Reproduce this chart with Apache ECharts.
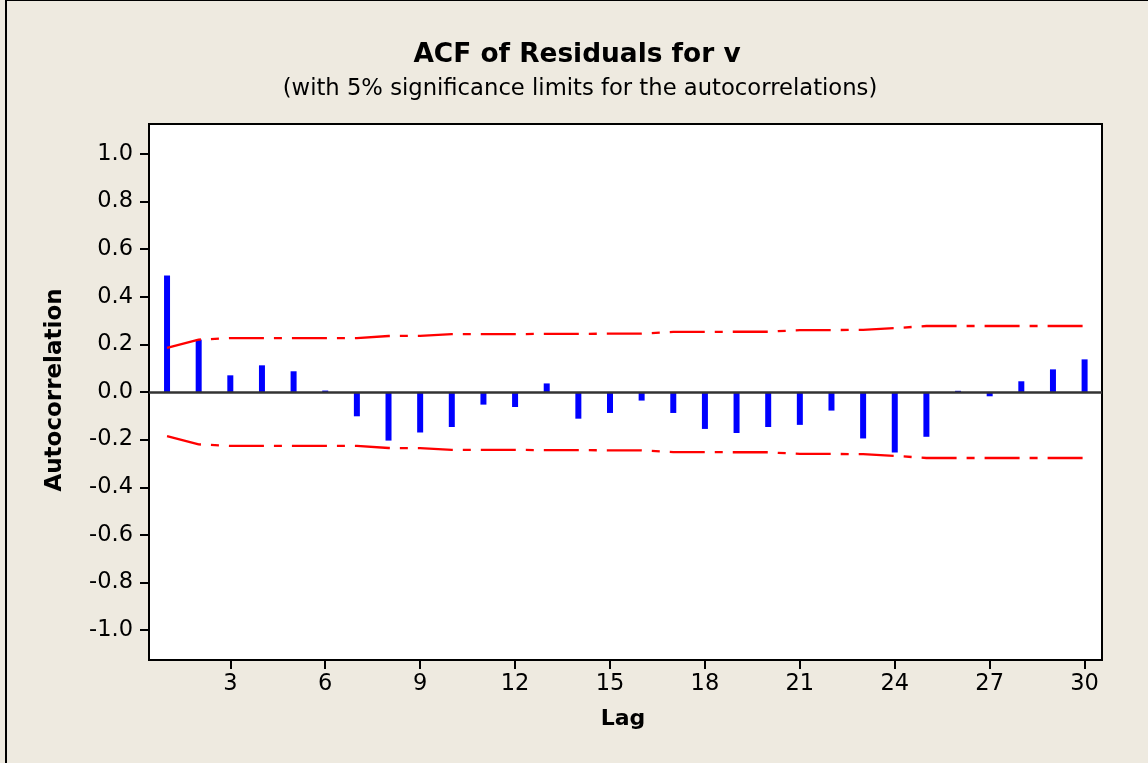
<!DOCTYPE html>
<html>
<head>
<meta charset="utf-8">
<script src="https://cdn.jsdelivr.net/npm/echarts@6/dist/echarts.min.js"></script>
<style>
html,body{margin:0;padding:0;background:#EEEAE0;}
#chart{width:1148px;height:763px;}
</style>
</head>
<body>
<div id="chart"></div>
<script>
const lags = [1,2,3,4,5,6,7,8,9,10,11,12,13,14,15,16,17,18,19,20,21,22,23,24,25,26,27,28,29,30];
const acf = [0.489,0.220,0.070,0.112,0.087,0.006,-0.102,-0.204,-0.170,-0.147,-0.053,-0.063,0.036,-0.112,-0.088,-0.036,-0.088,-0.155,-0.172,-0.147,-0.138,-0.078,-0.195,-0.254,-0.188,0.005,-0.018,0.045,0.095,0.137];
const upperLimit = [0.185,0.220,0.226,0.226,0.226,0.226,0.226,0.235,0.236,0.243,0.243,0.243,0.244,0.244,0.245,0.245,0.252,0.252,0.253,0.253,0.260,0.260,0.261,0.268,0.277,0.277,0.277,0.277,0.277,0.277];
const lowerLimit = [-0.185,-0.220,-0.226,-0.226,-0.226,-0.226,-0.226,-0.235,-0.236,-0.243,-0.243,-0.243,-0.244,-0.244,-0.245,-0.245,-0.252,-0.252,-0.253,-0.253,-0.260,-0.260,-0.261,-0.268,-0.277,-0.277,-0.277,-0.277,-0.277,-0.277];
const yTicks = [-1.0,-0.8,-0.6,-0.4,-0.2,0.0,0.2,0.4,0.6,0.8,1.0];
const xTicks = [3,6,9,12,15,18,21,24,27,30];
const titleText = 'ACF of Residuals for v';
const subtitleText = '(with 5% significance limits for the autocorrelations)';
const xName = 'Lag';
const yName = 'Autocorrelation';

const FONT = 'DejaVu Sans';
const chart = echarts.init(document.getElementById('chart'), null, {renderer:'canvas'});
const dash = [35,10,8,10];
chart.setOption({
  animation:false,
  backgroundColor:'#EEEAE0',
  grid:{left:149,right:46,top:124,bottom:103,show:true,backgroundColor:'#FFFFFF',borderColor:'#000000',borderWidth:2},
  xAxis:{
    type:'value',min:0.43,max:30.55,
    axisLine:{show:true,onZero:false,lineStyle:{color:'#000',width:2}},
    axisTick:{show:true,customValues:xTicks,length:9,lineStyle:{color:'#000',width:2}},
    axisLabel:{show:true,customValues:xTicks,margin:13,fontSize:22.5,fontFamily:FONT,color:'#000'},
    splitLine:{show:false}
  },
  yAxis:{
    type:'value',min:-1.125,max:1.125,
    axisLine:{show:true,onZero:false,lineStyle:{color:'#000',width:2}},
    axisTick:{show:true,customValues:yTicks,length:9,lineStyle:{color:'#000',width:2}},
    axisLabel:{show:true,customValues:yTicks,margin:16,fontSize:22.5,fontFamily:FONT,color:'#000',formatter:v=>v.toFixed(1)},
    splitLine:{show:false}
  },
  series:[
    {type:'bar',data:lags.map((l,i)=>[l,acf[i]]),barWidth:6,itemStyle:{color:'#0000FF'},z:2,
     markLine:{silent:true,symbol:'none',label:{show:false},lineStyle:{color:'#333333',width:2.5,type:'solid'},data:[{yAxis:0}]}},
    {type:'line',data:lags.map((l,i)=>[l,upperLimit[i]]),showSymbol:false,symbol:'none',lineStyle:{color:'#FF0000',width:2.3,type:dash},z:3},
    {type:'line',data:lags.map((l,i)=>[l,lowerLimit[i]]),showSymbol:false,symbol:'none',lineStyle:{color:'#FF0000',width:2.3,type:dash},z:3}
  ],
  graphic:[
    {type:'rect',shape:{x:6,y:0,width:1300,height:1000},style:{fill:null,stroke:'#000',lineWidth:2},silent:true,z:100},
    {type:'text',x:577,y:55.5,style:{text:titleText,font:'bold 26.4px "DejaVu Sans"',fill:'#000',align:'center',verticalAlign:'middle'}},
    {type:'text',x:580,y:89,style:{text:subtitleText,font:'22.7px "DejaVu Sans"',fill:'#000',align:'center',verticalAlign:'middle'}},
    {type:'text',x:623,y:719.5,style:{text:xName,font:'bold 22px "DejaVu Sans"',fill:'#000',align:'center',verticalAlign:'middle'}},
    {type:'text',x:55,y:390,rotation:Math.PI/2,style:{text:yName,font:'bold 23px "DejaVu Sans"',fill:'#000',align:'center',verticalAlign:'middle'}}
  ]
});
</script>
</body>
</html>
